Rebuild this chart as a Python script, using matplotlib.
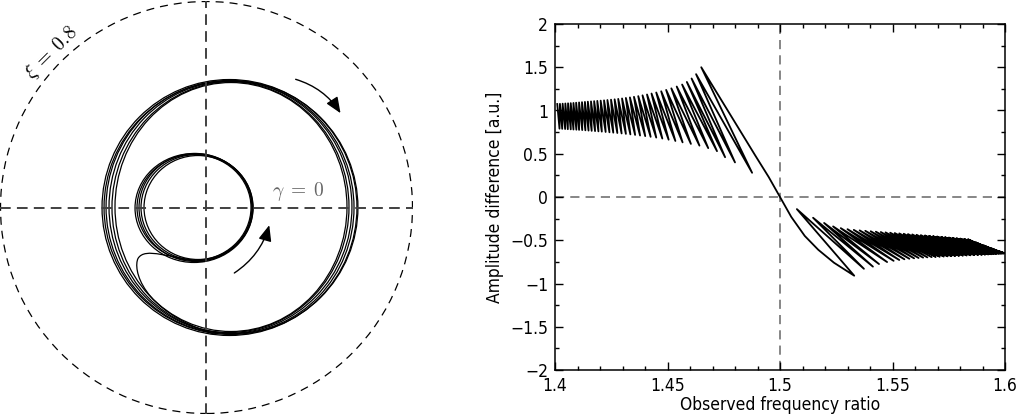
import matplotlib
matplotlib.use("Agg")
import matplotlib.pyplot as plt
from matplotlib import font_manager
from matplotlib.patches import Circle, Ellipse, FancyArrowPatch, PathPatch
from matplotlib.path import Path
from matplotlib.ticker import MultipleLocator, FuncFormatter

plt.rcParams["mathtext.fontset"] = "cm"

# ── left panel data (units of xi) ──────────────────────────────────────────
XI = 0.8
INNER_CX = [-0.0330, -0.0369, -0.0427, -0.0485, -0.0485]
INNER_CY = [0.0000, 0.0000, 0.0000, 0.0000, -0.0019]
INNER_W = [0.4194, 0.4349, 0.4388, 0.4427, 0.4582]
INNER_H = [0.4038, 0.4116, 0.4194, 0.4116, 0.4232]

OUTER_CX = [0.0893, 0.0951, 0.0874, 0.0874, 0.1029, 0.0951]
OUTER_CY = [0.0000, 0.0000, 0.0019, 0.0019, 0.0000, 0.0019]
OUTER_W = [0.990, 0.986, 0.955, 0.932, 0.940, 0.901]
OUTER_H = [0.994, 0.986, 0.982, 0.975, 0.979, 0.967]

# bezier control points of the hook joining the two loops
TAIL_X = [-0.0058, -0.1417, -0.2388, -0.2660, -0.2854, -0.2582, 0.0330]
TAIL_Y = [-0.2097, -0.1980, -0.1514, -0.1980, -0.2369, -0.4000, -0.4931]

ARROW_OUT = [(0.3359, 0.5009), (0.5262, 0.3572)]
ARROW_IN = [(0.0990, -0.2602), (0.2466, -0.0582)]

# ── right panel data ───────────────────────────────────────────────────────
LEFT_TOP_X = [1.4010, 1.4022, 1.4034, 1.4046, 1.4058, 1.4070, 1.4082, 1.4094, 1.4107, 1.4120,
              1.4133, 1.4146, 1.4160, 1.4174, 1.4188, 1.4203, 1.4218, 1.4233, 1.4249, 1.4265,
              1.4281, 1.4298, 1.4315, 1.4333, 1.4351, 1.4370, 1.4389, 1.4409, 1.4429, 1.4450,
              1.4472, 1.4494, 1.4517, 1.4541, 1.4565, 1.4586, 1.4607, 1.4627]
LEFT_TOP_Y = [1.075, 1.077, 1.079, 1.081, 1.083, 1.085, 1.087, 1.090, 1.093, 1.096,
              1.099, 1.102, 1.105, 1.108, 1.111, 1.114, 1.117, 1.121, 1.125, 1.129,
              1.134, 1.139, 1.145, 1.151, 1.158, 1.166, 1.175, 1.185, 1.196, 1.208,
              1.222, 1.238, 1.256, 1.277, 1.300, 1.330, 1.370, 1.420]
LEFT_BOT_X = [1.4020, 1.4032, 1.4045, 1.4057, 1.4070, 1.4082, 1.4095, 1.4107, 1.4121, 1.4135,
              1.4149, 1.4163, 1.4178, 1.4193, 1.4208, 1.4225, 1.4242, 1.4259, 1.4277, 1.4296,
              1.4315, 1.4335, 1.4356, 1.4378, 1.4401, 1.4425, 1.4450, 1.4477, 1.4505, 1.4535,
              1.4567, 1.4604, 1.4642, 1.4681, 1.4720, 1.4756, 1.4800, 1.4876]
LEFT_BOT_Y = [0.790, 0.788, 0.786, 0.784, 0.782, 0.780, 0.778, 0.776, 0.774, 0.771,
              0.768, 0.765, 0.762, 0.759, 0.756, 0.752, 0.748, 0.744, 0.740, 0.735,
              0.730, 0.724, 0.718, 0.711, 0.704, 0.696, 0.687, 0.676, 0.663, 0.648,
              0.632, 0.614, 0.594, 0.565, 0.530, 0.460, 0.400, 0.280]

MAIN_X = [1.4650, 1.4730, 1.4810, 1.4890, 1.4950, 1.5000, 1.5050, 1.5110, 1.5170, 1.5240, 1.5330]
MAIN_Y = [1.500, 1.160, 0.820, 0.480, 0.230, 0.000, -0.230, -0.450, -0.610, -0.760, -0.910]

RIGHT_TOP_X = [1.5075, 1.5147, 1.5196, 1.5236, 1.5270, 1.5300, 1.5328, 1.5354, 1.5379, 1.5403,
               1.5426, 1.5448, 1.5469, 1.5490, 1.5510, 1.5530, 1.5550, 1.5569, 1.5588, 1.5607,
               1.5626, 1.5644, 1.5662, 1.5680, 1.5698, 1.5716, 1.5733, 1.5750, 1.5767, 1.5784,
               1.5801, 1.5818, 1.5835, 1.5870, 1.5905, 1.5940, 1.5970]
RIGHT_TOP_Y = [-0.140, -0.240, -0.300, -0.340, -0.360, -0.372, -0.380, -0.386, -0.391, -0.396,
               -0.401, -0.405, -0.409, -0.413, -0.417, -0.421, -0.425, -0.429, -0.433, -0.437,
               -0.441, -0.445, -0.449, -0.453, -0.457, -0.461, -0.465, -0.469, -0.473, -0.477,
               -0.481, -0.485, -0.489, -0.525, -0.560, -0.595, -0.625]
RIGHT_BOT_X = [1.5373, 1.5413, 1.5440, 1.5476, 1.5505, 1.5530, 1.5553, 1.5575, 1.5596, 1.5616,
               1.5636, 1.5655, 1.5674, 1.5692, 1.5710, 1.5728, 1.5745, 1.5762, 1.5779, 1.5796,
               1.5813, 1.5830, 1.5847, 1.5864, 1.5881, 1.5897, 1.5912, 1.5926, 1.5939, 1.5951,
               1.5962, 1.5972, 1.5980, 1.5987, 1.5993, 1.5997]
RIGHT_BOT_Y = [-0.830, -0.805, -0.775, -0.752, -0.738, -0.728, -0.720, -0.714, -0.709, -0.705,
               -0.701, -0.698, -0.695, -0.692, -0.690, -0.688, -0.686, -0.684, -0.682, -0.680,
               -0.678, -0.676, -0.674, -0.672, -0.670, -0.668, -0.666, -0.664, -0.662, -0.660,
               -0.658, -0.656, -0.655, -0.654, -0.653, -0.652]
END_X, END_Y = 1.6000, -0.650

X_TICKS = [1.4, 1.45, 1.5, 1.55, 1.6]
Y_TICKS = [-2, -1.5, -1, -0.5, 0, 0.5, 1, 1.5, 2]


def _narrow_font(size):
    """Condensed sans if the system has one, plain DejaVu otherwise."""
    for want in ("DejaVuSansCondensed.ttf", "LiberationSansNarrow-Regular.ttf"):
        for f in font_manager.fontManager.ttflist:
            if f.fname.endswith(want):
                return font_manager.FontProperties(fname=f.fname, size=size)
    return font_manager.FontProperties(family="DejaVu Sans", size=size - 1.5)


fig = plt.figure(figsize=(10.18, 4.15), dpi=100)

# ── left: phase portrait ───────────────────────────────────────────────────
axL = fig.add_axes([0.0, 0.0024, 413 / 1018, 413 / 415])
axL.set_xlim(-0.802, 0.802)
axL.set_ylim(-0.802, 0.802)
axL.set_aspect("equal")
axL.axis("off")

axL.add_patch(Circle((0, 0), XI, fill=False, ec="k", lw=0.9, ls=(0, (6.4, 4.8))))
axL.axhline(0, color="0.25", lw=1.4, ls=(0, (5.5, 3.2)))
axL.axvline(0, color="0.25", lw=1.4, ls=(0, (5.5, 3.2)))

for cx, cy, w, h in zip(INNER_CX, INNER_CY, INNER_W, INNER_H):
    axL.add_patch(Ellipse((cx, cy), w, h, fill=False, ec="k", lw=0.9))
for cx, cy, w, h in zip(OUTER_CX, OUTER_CY, OUTER_W, OUTER_H):
    axL.add_patch(Ellipse((cx, cy), w, h, fill=False, ec="k", lw=0.9))

codes = [Path.MOVETO] + [Path.CURVE4] * 6
axL.add_patch(PathPatch(Path(list(zip(TAIL_X, TAIL_Y)), codes), fill=False, ec="k", lw=0.9))

axL.add_patch(FancyArrowPatch(ARROW_OUT[0], ARROW_OUT[1], connectionstyle="arc3,rad=-0.2",
                              arrowstyle="-|>,head_length=0.6,head_width=0.25",
                              mutation_scale=16, lw=1.0, color="k"))
axL.add_patch(FancyArrowPatch(ARROW_IN[0], ARROW_IN[1], connectionstyle="arc3,rad=0.2",
                              arrowstyle="-|>,head_length=0.6,head_width=0.25",
                              mutation_scale=16, lw=1.0, color="k"))

axL.text(-0.600, 0.600, r"$\xi\;=\;0.8$", rotation=45, ha="center", va="center",
         fontsize=14, color="k")
axL.text(0.356, 0.062, r"$\gamma\;=\;0$", ha="center", va="center", fontsize=14, color="0.4")

# ── right: amplitude difference ────────────────────────────────────────────
ax = fig.add_axes([555 / 1018, 45 / 415, 450 / 1018, 346 / 415])

xs, ys = [], []
for tx, ty, bx, by in zip(LEFT_TOP_X, LEFT_TOP_Y, LEFT_BOT_X, LEFT_BOT_Y):
    xs += [tx, bx]
    ys += [ty, by]
xs += MAIN_X
ys += MAIN_Y
for i, (tx, ty) in enumerate(zip(RIGHT_TOP_X, RIGHT_TOP_Y)):
    xs.append(tx)
    ys.append(ty)
    if i < len(RIGHT_BOT_X):
        xs.append(RIGHT_BOT_X[i])
        ys.append(RIGHT_BOT_Y[i])
xs.append(END_X)
ys.append(END_Y)

ax.axhline(0, color="0.4", lw=1.1, ls=(0, (6, 4)), zorder=1)
ax.axvline(1.5, color="0.4", lw=1.1, ls=(0, (6, 4)), zorder=1)
ax.plot(xs, ys, color="k", lw=1.3, zorder=2)

ax.set_xlim(1.4, 1.6)
ax.set_ylim(-2, 2)
ax.set_xticks(X_TICKS)
ax.set_yticks(Y_TICKS)
ax.xaxis.set_minor_locator(MultipleLocator(0.01))
ax.yaxis.set_minor_locator(MultipleLocator(0.25))
fmt = FuncFormatter(lambda v, p: f"{v:g}".replace("-", "\u2212"))
ax.xaxis.set_major_formatter(fmt)
ax.yaxis.set_major_formatter(fmt)
ax.tick_params(which="both", direction="in", top=True, right=True, width=1.0)
ax.tick_params(which="major", length=6, pad=5)
ax.tick_params(which="minor", length=3)
for sp in ax.spines.values():
    sp.set_linewidth(1.1)

fp = _narrow_font(12.5)
for lab in ax.get_xticklabels() + ax.get_yticklabels():
    lab.set_fontproperties(fp)
ax.set_xlabel("Observed frequency ratio", fontproperties=fp, labelpad=1)
ax.set_ylabel("Amplitude difference [a.u.]", fontproperties=fp, labelpad=4)

fig.savefig("out.png", dpi=100)
